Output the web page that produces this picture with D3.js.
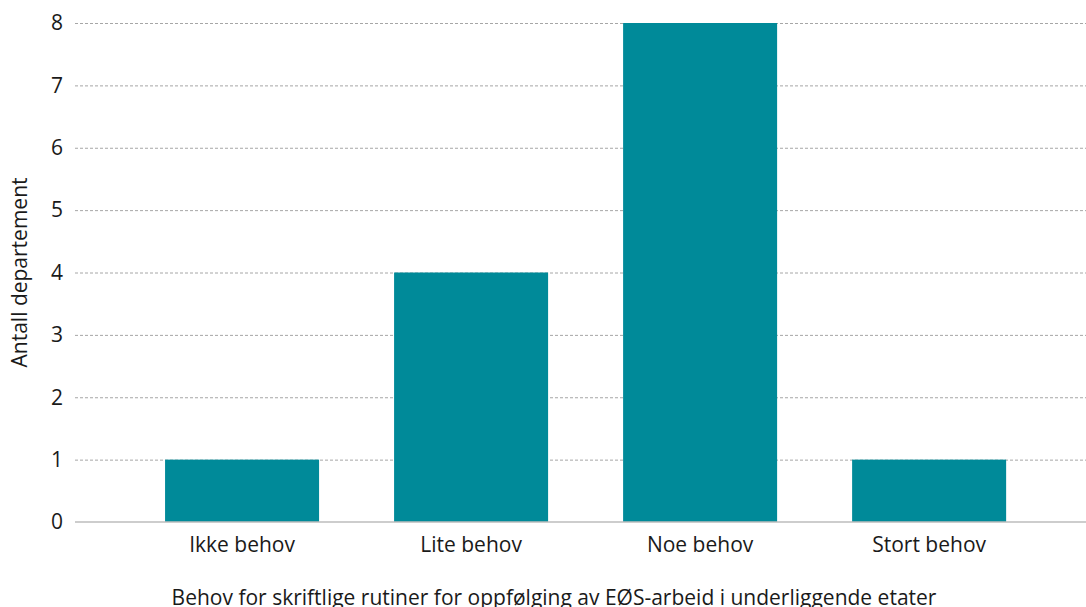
<!DOCTYPE html>
<html>
<head>
<meta charset="utf-8">
<script src="https://cdn.jsdelivr.net/npm/d3@7"></script>
<style>
  body { margin: 0; background: #fff; }
  text { font-family: "Open Sans", sans-serif; fill: #1a1a1a; }
</style>
</head>
<body>
<svg class="barViz" width="1086" height="607"></svg>
<script>
const categories = ['Ikke behov', 'Lite behov', 'Noe behov', 'Stort behov'];
const counts = [1, 4, 8, 1];
const yTicks = [0, 1, 2, 3, 4, 5, 6, 7, 8];

const margin = { top: 23, right: 0, bottom: 85, left: 75 };
const width = 1086 - margin.left - margin.right;
const height = 607 - margin.top - margin.bottom;

const svg = d3.select('svg.barViz');
const g = svg.append('g')
             .attr('transform', `translate(${margin.left}, ${margin.top})`);

const x = d3.scaleBand()
            .domain(categories)
            .range([0, width])
            .paddingInner(0.3275)
            .paddingOuter(0.371)
            .align(0.53);

const y = d3.scaleLinear()
            .domain([0, 8])
            .range([height, 0]);

// gridlines
g.selectAll('line.grid')
  .data(yTicks.filter(d => d > 0))
  .enter()
  .append('line')
  .attr('class', 'grid')
  .attr('x1', 0)
  .attr('x2', width)
  .attr('y1', d => y(d) + 0.5)
  .attr('y2', d => y(d) + 0.5)
  .style('stroke', '#a6a6a6')
  .style('stroke-width', 1)
  .style('stroke-dasharray', '3,2');

// bars
g.selectAll('rect.bar')
  .data(counts)
  .enter()
  .append('rect')
  .attr('class', 'bar')
  .attr('x', (d, i) => x(categories[i]))
  .attr('y', d => y(d))
  .attr('width', x.bandwidth())
  .attr('height', d => height - y(d))
  .style('fill', '#008a99');

// baseline
g.append('line')
  .attr('x1', 0)
  .attr('x2', width)
  .attr('y1', height)
  .attr('y2', height)
  .style('stroke', '#bdbdbd')
  .style('stroke-width', 1.5);

// y tick labels
g.selectAll('text.ytick')
  .data(yTicks)
  .enter()
  .append('text')
  .attr('class', 'ytick')
  .attr('x', -12)
  .attr('y', d => y(d))
  .attr('dy', '0.35em')
  .attr('text-anchor', 'end')
  .style('font-size', '21px')
  .text(d => d);

// x tick labels
g.selectAll('text.xtick')
  .data(categories)
  .enter()
  .append('text')
  .attr('class', 'xtick')
  .attr('x', d => x(d) + x.bandwidth() / 2)
  .attr('y', height + 30)
  .attr('text-anchor', 'middle')
  .style('font-size', '21px')
  .text(d => d);

// axis titles
svg.append('text')
  .attr('x', 554)
  .attr('y', 605)
  .attr('text-anchor', 'middle')
  .style('font-size', '21px')
  .text('Behov for skriftlige rutiner for oppfølging av EØS-arbeid i underliggende etater');

svg.append('text')
  .attr('transform', `translate(27, ${margin.top + height / 2}) rotate(-90)`)
  .attr('text-anchor', 'middle')
  .style('font-size', '21px')
  .text('Antall departement');
</script>
</body>
</html>
